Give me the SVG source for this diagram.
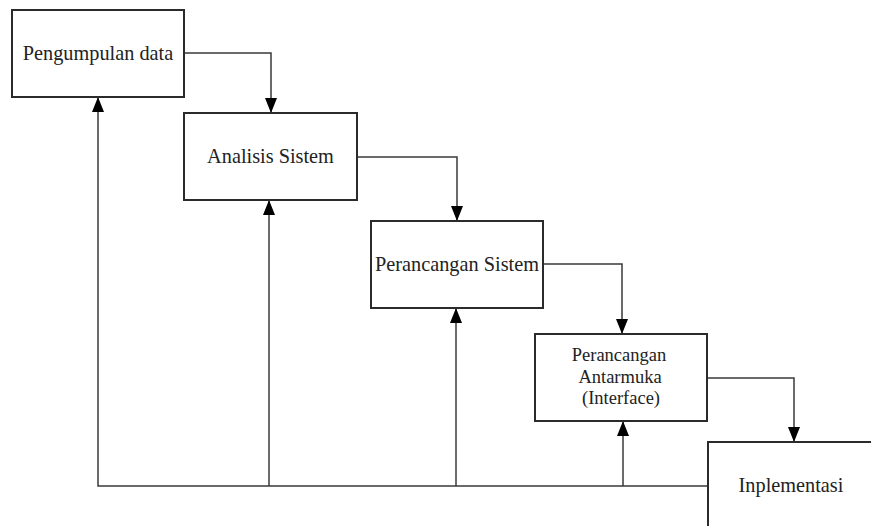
<svg xmlns="http://www.w3.org/2000/svg" width="871" height="526" viewBox="0 0 871 526">
<style>
.box{fill:#fff;stroke:#2b2b2b;stroke-width:2}
.lbl{font-family:"Liberation Serif","Times New Roman",serif;font-size:20.3px;fill:#222;text-anchor:middle}
.sm{font-size:18.5px}
.con{fill:none;stroke:#3a3a3a;stroke-width:1.5}
</style>
<defs>
<marker id="ah" viewBox="0 0 15 12" refX="15" refY="6" markerWidth="15" markerHeight="12" orient="auto" markerUnits="userSpaceOnUse">
<path d="M0,0 L15,6 L0,12 z" fill="#000"/>
</marker>
</defs>
<rect width="871" height="526" fill="#fff"/>
<g id="connectors">
<path class="con" d="M184,53 H271 V113" marker-end="url(#ah)"/>
<path class="con" d="M357,157 H457 V221" marker-end="url(#ah)"/>
<path class="con" d="M543,264 H622 V334" marker-end="url(#ah)"/>
<path class="con" d="M707,378 H794 V442" marker-end="url(#ah)"/>
<path class="con" d="M708,486 H98 V97" marker-end="url(#ah)"/>
<path class="con" d="M269,486 V200" marker-end="url(#ah)"/>
<path class="con" d="M456,486 V308" marker-end="url(#ah)"/>
<path class="con" d="M623,486 V421" marker-end="url(#ah)"/>
</g>
<g id="n1">
<rect class="box" x="12" y="10" width="172" height="87"/>
<text class="lbl" x="98" y="60">Pengumpulan data</text>
</g>
<g id="n2">
<rect class="box" x="184" y="113" width="173" height="87"/>
<text class="lbl" x="270.5" y="162.5">Analisis Sistem</text>
</g>
<g id="n3">
<rect class="box" x="371" y="221" width="172" height="87"/>
<text class="lbl" x="457" y="271">Perancangan Sistem</text>
</g>
<g id="n4">
<rect class="box" x="535" y="334" width="172" height="87"/>
<text class="lbl sm" x="619" y="361">Perancangan</text>
<text class="lbl sm" x="620" y="382.5">Antarmuka</text>
<text class="lbl sm" x="621" y="404">(Interface)</text>
</g>
<g id="n5">
<rect class="box" x="708" y="442" width="200" height="120"/>
<text class="lbl" x="791" y="492">Inplementasi</text>
</g>
</svg>
